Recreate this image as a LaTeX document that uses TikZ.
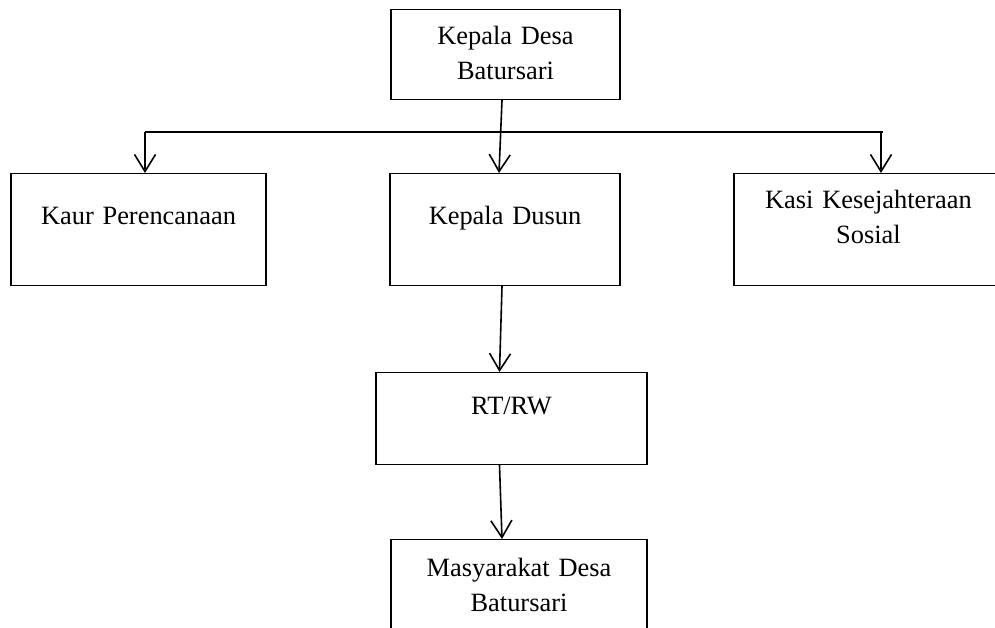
\documentclass[tikz,border=0pt]{standalone}
\usepackage{fontspec}
\setmainfont{Liberation Serif}
\usetikzlibrary{arrows.meta,positioning}

\begin{document}
\begin{tikzpicture}[x=1pt,y=-1pt,
  box/.style={draw=black,line width=1.2pt,anchor=north,inner xsep=0pt,inner ysep=0pt,
              align=center,font=\fontsize{26.4}{35}\selectfont},
  arrow/.style={-{Straight Barb[length=17pt,width=21pt,line width=1.6pt]},line width=1.6pt}]
\useasboundingbox (0,0) rectangle (995,628);
\clip (0,0) rectangle (995,628);
\node[box,text width=229pt,text height=35pt,text depth=55pt] (desa) at (505.5,9)
  {Kepala Desa\\Batursari};
\node[box,text width=255pt,text height=51pt,text depth=61pt] (kaur) at (138.5,173)
  {Kaur Perencanaan};
\node[box,text width=230pt,text height=51pt,text depth=61pt] (dusun) at (505,173)
  {Kepala Dusun};
\node[box,text width=269pt,text height=35pt,text depth=77pt] (kasi) at (868.5,173)
  {Kasi Kesejahteraan\\Sosial};
\node[box,text width=271pt,text height=42pt,text depth=50pt] (rtrw) at (511.5,372)
  {RT/RW};
\node[box,text width=256pt,text height=37pt,text depth=74pt] (warga) at (519,539)
  {Masyarakat Desa\\Batursari};
% garis cabang
\coordinate (busL) at (145,132);
\coordinate (busR) at (883,132);
\draw[line width=1.8pt] (busL)--(busR);
\draw[arrow] (busL)--(busL |- kaur.north);
\draw[arrow] ([xshift=-2pt]busR)--([xshift=-2pt]busR |- kasi.north);
\draw[arrow] ([xshift=-3.5pt]desa.south)--([xshift=-6pt]dusun.north);
\draw[arrow] ([xshift=-3pt]dusun.south)--([xshift=-12pt]rtrw.north);
\draw[arrow] ([xshift=-12pt]rtrw.south)--([xshift=-17pt]warga.north);
\end{tikzpicture}
\end{document}
